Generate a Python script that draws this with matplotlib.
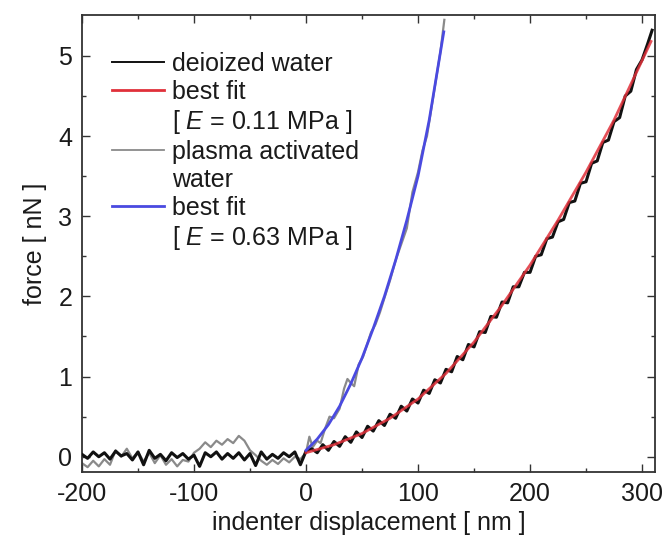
import numpy as np
import matplotlib
matplotlib.use('Agg')
import matplotlib.pyplot as plt
from matplotlib.lines import Line2D

plt.rcParams['font.family'] = ['Liberation Sans', 'DejaVu Sans']
plt.rcParams['mathtext.fontset'] = 'custom'
plt.rcParams['mathtext.it'] = 'Liberation Sans:italic'
plt.rcParams['mathtext.rm'] = 'Liberation Sans'
plt.rcParams['axes.unicode_minus'] = False

# deionized water, raw curve (baseline + indentation)
di_x = [-200, -195, -190, -185, -180, -175, -170, -165, -160, -155, -150, -145, -140, -135,
        -130, -125, -120, -115, -110, -105, -100, -95, -90, -85, -80, -75, -70, -65, -60,
        -55, -50, -45, -40, -35, -30, -25, -20, -15, -10, -5, 0,
        5, 10, 15, 20, 25, 30, 35, 40, 45, 50, 55, 60, 65, 70, 75, 80, 85, 90, 95, 100,
        105, 110, 115, 120, 125, 130, 135, 140, 145, 150, 155, 160, 165, 170, 175, 180,
        185, 190, 195, 200, 205, 210, 215, 220, 225, 230, 235, 240, 245, 250, 255, 260,
        265, 270, 275, 280, 285, 290, 295, 300, 305, 309]
di_f = [0.03, -0.02, 0.06, 0.0, 0.05, -0.03, 0.07, 0.01, 0.04, -0.04, 0.06, -0.1, 0.08, -0.02,
        0.03, -0.05, 0.05, -0.01, 0.04, -0.03, 0.02, -0.12, 0.05, 0.0, 0.06, -0.03, 0.04, -0.02,
        0.05, -0.04, 0.04, -0.11, 0.06, -0.03, 0.03, -0.02, 0.05, 0.0, 0.06, -0.1, 0.07,
        0.10, 0.05, 0.15, 0.08, 0.19, 0.13, 0.25, 0.18, 0.31, 0.24, 0.38, 0.32, 0.45, 0.39,
        0.53, 0.48, 0.63, 0.57, 0.72, 0.67, 0.83, 0.79, 0.96, 0.92, 1.09, 1.06, 1.25, 1.21,
        1.40, 1.37, 1.56, 1.55, 1.75, 1.74, 1.93, 1.92, 2.12, 2.12, 2.30, 2.30, 2.50, 2.52,
        2.72, 2.74, 2.93, 2.96, 3.17, 3.19, 3.41, 3.43, 3.66, 3.69, 3.92, 3.95, 4.18, 4.23,
        4.50, 4.56, 4.83, 4.95, 5.15, 5.32]

# best fit for deionized water
di_fit_x = [0, 25, 50, 75, 100, 125, 150, 175, 200, 225, 250, 275, 308]
di_fit_f = [0.05, 0.15, 0.29, 0.48, 0.72, 1.04, 1.43, 1.89, 2.39, 2.95, 3.55, 4.2, 5.18]

# plasma activated water, raw curve
pa_x = [-200, -195, -190, -185, -180, -175, -170, -165, -160, -155, -150, -145, -140, -135,
        -130, -125, -120, -115, -110, -105, -100, -95, -90, -85, -80, -75, -70, -65, -60,
        -55, -50, -45, -40, -35, -30, -25, -20, -15, -10, -5, 0,
        3, 6, 10, 13, 17, 21, 25, 30, 34, 37, 40, 43, 47, 51, 55, 58, 62, 66, 70, 75, 80,
        85, 90, 95, 100, 104, 108, 112, 116, 120, 123.5]
pa_f = [-0.08, -0.13, -0.05, -0.12, -0.03, -0.1, 0.08, 0.0, 0.1, -0.02, 0.06, -0.06, 0.05, -0.08,
        0.02, -0.1, -0.03, -0.12, -0.04, -0.06, 0.05, 0.1, 0.18, 0.12, 0.2, 0.15, 0.22, 0.17,
        0.26, 0.2, 0.08, 0.02, -0.05, -0.1, -0.04, -0.09, -0.02, -0.07, 0.0, -0.03, 0.05,
        0.25, 0.12, 0.2, 0.17, 0.35, 0.5, 0.48, 0.6, 0.85, 0.97, 0.92, 0.88, 1.15, 1.25, 1.42,
        1.55, 1.65, 1.8, 1.98, 2.2, 2.45, 2.65, 2.85, 3.3, 3.55, 3.82, 4.0, 4.35, 4.7, 5.05, 5.45]

# best fit for plasma activated water
pa_fit_x = [0, 10, 20, 30, 40, 50, 60, 70, 80, 90, 100, 110, 123]
pa_fit_f = [0.08, 0.22, 0.40, 0.63, 0.91, 1.23, 1.6, 2.0, 2.45, 2.95, 3.5, 4.2, 5.3]

c_black = '#111111'
c_gray = '#8a8a8a'
c_red = '#e0303a'
c_blue = '#4a4ae0'

fig = plt.figure(figsize=(6.65, 5.42), dpi=100)
ax = fig.add_axes([0.1233, 0.1292, 0.8617, 0.8431])

ax.plot(pa_x, pa_f, color=c_gray, lw=1.6, zorder=2)
ax.plot(di_x, di_f, color=c_black, lw=2.2, zorder=3)
ax.plot(di_fit_x, di_fit_f, color=c_red, lw=2.0, alpha=0.85, zorder=4)
ax.plot(pa_fit_x, pa_fit_f, color=c_blue, lw=2.0, zorder=4)

ax.set_xlim(-200, 311.6)
ax.set_ylim(-0.19, 5.51)
ax.set_xticks([-200, -100, 0, 100, 200, 300])
ax.set_xticks([-150, -50, 50, 150, 250], minor=True)
ax.set_yticks([0, 1, 2, 3, 4, 5])
ax.set_yticks([0.5, 1.5, 2.5, 3.5, 4.5], minor=True)
ax.tick_params(which='both', direction='in', top=True, right=True,
               labelsize=18, colors='#333333', labelcolor='#1a1a1a', width=1.0)
ax.tick_params(which='major', length=6, pad=7)
ax.tick_params(which='minor', length=3)
for s in ax.spines.values():
    s.set_linewidth(1.3)
    s.set_color('#333333')

ax.set_xlabel('indenter displacement [ nm ]', fontsize=18, color='#1a1a1a', labelpad=4)
ax.set_ylabel('force [ nN ]', fontsize=18, color='#1a1a1a', labelpad=8)

blank = Line2D([], [], color='none')
handles = [Line2D([], [], color=c_black, lw=1.4),
           Line2D([], [], color=c_red, lw=2.0),
           blank,
           Line2D([], [], color=c_gray, lw=1.3),
           blank,
           Line2D([], [], color=c_blue, lw=2.0),
           blank]
labels = ['deioized water', 'best fit', '[ $E$ = 0.11 MPa ]', 'plasma activated',
          'water', 'best fit', '[ $E$ = 0.63 MPa ]']
ax.legend(handles, labels, loc='upper left', bbox_to_anchor=(0.052, 0.92),
          frameon=False, fontsize=18, handlelength=2.1, handletextpad=0.3,
          labelspacing=0.16, borderaxespad=0, borderpad=0, labelcolor='#1a1a1a')

fig.savefig('out.png', dpi=100)
